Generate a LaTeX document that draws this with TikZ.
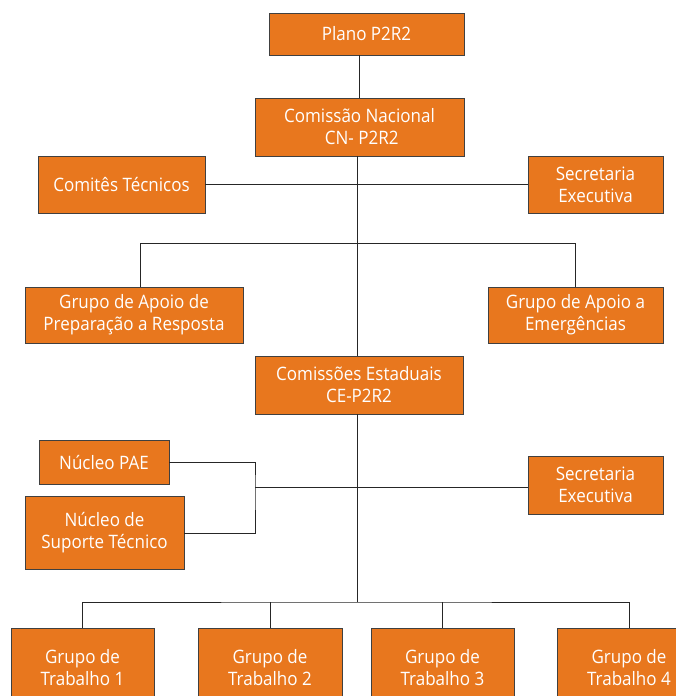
\documentclass[tikz,border=0pt]{standalone}
\usepackage{fontspec}
\setmainfont[FakeStretch=0.92]{Open Sans}
\usepackage{xcolor}
\usetikzlibrary{positioning, calc}

\definecolor{boxorange}{HTML}{E8771E}

\begin{document}
\begin{tikzpicture}[
  x=1pt, y=-1pt,
  orgbox/.style={
    rectangle, draw=black!75, fill=boxorange, line width=0.9pt,
    text=white, align=center, inner sep=2pt,
    font=\fontsize{18.5}{22}\selectfont
  },
  link/.style={black!85, line width=0.9pt},
]

\useasboundingbox (0,0) rectangle (676,696);
\clip (0,0) rectangle (676,696);

%% ── National level ──────────────────────────────────────────────────────────
\node[orgbox, minimum width=195pt, minimum height=42pt] (plano) at (366.5, 34) {Plano P2R2};
\node[orgbox, minimum width=209pt, minimum height=58pt] (cn) at (359.5, 127)
  {Comissão Nacional\\\ CN- P2R2};

\node[orgbox, minimum width=167pt, minimum height=57pt] (comites) at (121.5, 184.5)
  {Comitês Técnicos};
\node[orgbox, minimum width=135pt, minimum height=57pt] (secex) at (595.5, 184.5)
  {Secretaria\\Executiva};

\node[orgbox, minimum width=218pt, minimum height=56pt] (gapr) at (134, 315)
  {Grupo de Apoio de\\Preparação a Resposta};
\node[orgbox, minimum width=175pt, minimum height=56pt] (gae) at (575.5, 315)
  {Grupo de Apoio a\\Emergências};

%% ── State level ─────────────────────────────────────────────────────────────
\node[orgbox, minimum width=208pt, minimum height=58pt] (ce) at (359, 385)
  {Comissões Estaduais\\CE-P2R2};

\node[orgbox, minimum width=130pt, minimum height=44pt] (pae) at (104, 462)
  {Núcleo PAE};
\node[orgbox, minimum width=159pt, minimum height=73pt] (nst) at (104.5, 533)
  {Núcleo de\\Suporte Técnico};
\node[orgbox, minimum width=135pt, minimum height=58pt] (secexb) at (595.5, 485)
  {Secretaria\\Executiva};

%% ── Working groups ──────────────────────────────────────────────────────────
\node[orgbox, minimum width=143pt, minimum height=80pt] (gt1) at (82.5, 668) {Grupo de\\Trabalho 1};
\node[orgbox, minimum width=144pt, minimum height=80pt] (gt2) at (270, 668) {Grupo de\\Trabalho 2};
\node[orgbox, minimum width=143pt, minimum height=80pt] (gt3) at (442.5, 668) {Grupo de\\Trabalho 3};
\node[orgbox, minimum width=143pt, minimum height=80pt] (gt4) at (629, 668) {Grupo de\\Trabalho 4};

%% ── Connectors ──────────────────────────────────────────────────────────────
\coordinate (spine) at (357, 0);
\draw[link] (plano.south -| cn.north) -- (cn.north);
\draw[link] (cn.south -| spine) -- (ce.north -| spine);

% side boxes of the national commission
\draw[link] (comites.east) -- (secex.west);

% support groups
\coordinate (gaprj) at (140, 243);
\coordinate (gaej) at (575.5, 243);
\draw[link] (gapr.north -| gaprj) -- (gaprj) -- (gaej) -- (gae.north);

% nuclei bracket
\coordinate (brk) at (255, 487);
\draw[link] (pae.east) -| (brk) |- (nst.east);
\draw[link] (brk) -- (secexb.west |- brk);

% working groups
\coordinate (gtbar) at (357, 602);
\draw[link] (ce.south -| gtbar) -- (gtbar);
\draw[link] (gt1.north) |- (gtbar) -| (gt4.north);
\foreach \g in {gt2, gt3} {
  \draw[link] (\g.north) -- (\g.north |- gtbar);
}

\end{tikzpicture}
\end{document}
